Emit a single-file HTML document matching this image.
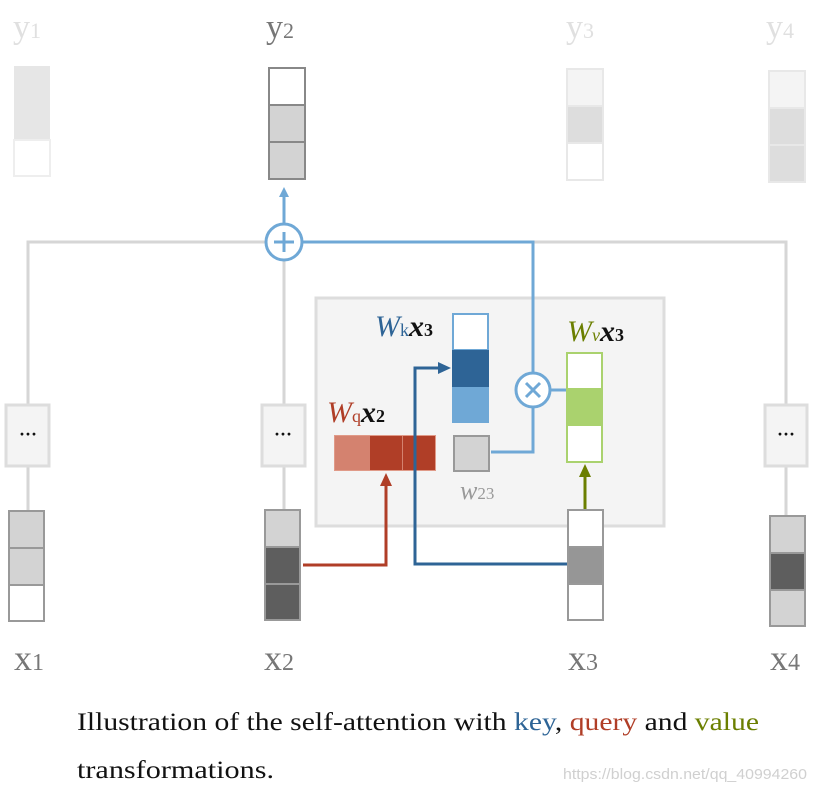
<!DOCTYPE html>
<html><head><meta charset="utf-8"><style>body{margin:0;background:#fff}svg{display:block}</style></head><body>
<svg width="816" height="791" viewBox="0 0 816 791" xmlns="http://www.w3.org/2000/svg" font-family="Liberation Serif, serif">
<defs>
<marker id="ab" markerWidth="10" markerHeight="10" refX="5" refY="5" orient="auto" markerUnits="userSpaceOnUse"><path d="M0,0 L10,5 L0,10z" fill="#6fa8d6"/></marker>
</defs>
<g font-size="34">
<text x="13" y="38" fill="#e0e0e0">y<tspan font-size="22">1</tspan></text>
<text x="266" y="38" fill="#777">y<tspan font-size="22">2</tspan></text>
<text x="566" y="38" fill="#e0e0e0">y<tspan font-size="22">3</tspan></text>
<text x="766" y="38" fill="#e0e0e0">y<tspan font-size="22">4</tspan></text>
</g>
<rect x="14" y="66" width="36" height="74" fill="#e6e6e6"/>
<rect x="14" y="140" width="36" height="36" fill="#fff" stroke="#eee" stroke-width="2"/>
<g stroke="#888" stroke-width="2"><rect x="269" y="68" width="36" height="37" fill="#fff"/><rect x="269" y="105" width="36" height="37" fill="#d3d3d3"/><rect x="269" y="142" width="36" height="37" fill="#d3d3d3"/></g>
<g stroke="#e8e8e8" stroke-width="2"><rect x="567" y="69" width="36" height="37" fill="#f4f4f4"/><rect x="567" y="106" width="36" height="37" fill="#ddd"/><rect x="567" y="143" width="36" height="37" fill="#fff"/></g>
<g stroke="#e8e8e8" stroke-width="2"><rect x="769" y="71" width="36" height="37" fill="#f4f4f4"/><rect x="769" y="108" width="36" height="37" fill="#ddd"/><rect x="769" y="145" width="36" height="37" fill="#ddd"/></g>
<g stroke="#d6d6d6" stroke-width="3" fill="none">
<path d="M28,404 V242 H266 M302,242 H786 V404"/>
<path d="M284,260 V404"/>
<path d="M28,466 V510 M284,466 V509 M786,466 V515"/>
</g>
<rect x="316" y="298" width="348" height="228" fill="#f4f4f4" stroke="#ddd" stroke-width="3"/>
<g fill="#f4f4f4" stroke="#ddd" stroke-width="3"><rect x="6" y="405" width="43" height="61"/><rect x="262" y="405" width="43" height="61"/><rect x="765" y="405" width="42" height="61"/></g>
<g font-size="18" text-anchor="middle" fill="#111" font-weight="bold"><text x="28" y="440">···</text><text x="283" y="440">···</text><text x="786" y="440">···</text></g>
<line x1="284" y1="224" x2="284" y2="192" stroke="#6fa8d6" stroke-width="3" marker-end="url(#ab)"/>
<path d="M302,242 H533 V373 M533,407 V452 H491" stroke="#6fa8d6" stroke-width="3" fill="none"/>
<line x1="550" y1="390" x2="567" y2="390" stroke="#6fa8d6" stroke-width="3"/>
<circle cx="284" cy="242" r="18" fill="#fff" stroke="#6fa8d6" stroke-width="3"/>
<path d="M284,232 V252 M274,242 H294" stroke="#6fa8d6" stroke-width="3"/>
<circle cx="533" cy="390" r="17" fill="#fff" stroke="#6fa8d6" stroke-width="3"/>
<path d="M526,383 L540,397 M540,383 L526,397" stroke="#6fa8d6" stroke-width="3"/>
<rect x="453" y="314" width="35" height="36" fill="#fff" stroke="#6fa8d6" stroke-width="2"/>
<rect x="452" y="350" width="37" height="37" fill="#2e6496"/>
<rect x="452" y="387" width="37" height="36" fill="#6fa8d6"/>
<rect x="567" y="353" width="35" height="109" fill="#fff" stroke="#aad26e" stroke-width="2"/>
<rect x="567" y="388" width="35" height="38" fill="#aad26e"/>
<rect x="334" y="435" width="102" height="36" fill="#d4826f"/>
<rect x="370" y="436" width="32" height="34" fill="#b03e27"/>
<rect x="403" y="436" width="32" height="34" fill="#b03e27"/>
<rect x="334.5" y="435.5" width="101" height="35" fill="none" stroke="#e09a88" stroke-width="1"/>
<rect x="454" y="436" width="35" height="35" fill="#d3d3d3" stroke="#999" stroke-width="2"/>
<text x="460" y="499" font-size="26" font-style="italic" fill="#999">w<tspan font-size="17" font-style="normal">23</tspan></text>
<text x="375" y="336" font-size="30" font-style="italic" fill="#2e6496">W<tspan font-size="18" font-style="normal">k</tspan><tspan fill="#111" font-weight="bold">x</tspan><tspan fill="#111" font-size="18" font-style="normal" font-weight="bold">3</tspan></text>
<text x="567" y="341" font-size="30" font-style="italic" fill="#6b7f00">W<tspan font-size="18">v</tspan><tspan fill="#111" font-weight="bold">x</tspan><tspan fill="#111" font-size="18" font-style="normal" font-weight="bold">3</tspan></text>
<text x="327" y="422" font-size="30" font-style="italic" fill="#b03e27">W<tspan font-size="18" font-style="normal">q</tspan><tspan fill="#111" font-weight="bold">x</tspan><tspan fill="#111" font-size="18" font-style="normal" font-weight="bold">2</tspan></text>
<path d="M303,565 H386 V484" stroke="#b03e27" stroke-width="3" fill="none"/>
<path d="M380,486 L386,473 L392,486z" fill="#b03e27"/>
<path d="M567,564 H415 V368 H440" stroke="#2e6496" stroke-width="3" fill="none"/>
<path d="M438,362 L451,368 L438,374z" fill="#2e6496"/>
<path d="M585,509 V475" stroke="#6b7f00" stroke-width="3"/>
<path d="M579,477 L585,464 L591,477z" fill="#6b7f00"/>
<g stroke="#999" stroke-width="2"><rect x="9" y="511" width="35" height="37" fill="#d3d3d3"/><rect x="9" y="548" width="35" height="37" fill="#d3d3d3"/><rect x="9" y="585" width="35" height="36" fill="#fff"/></g>
<g stroke="#999" stroke-width="2"><rect x="265" y="510" width="35" height="37" fill="#d3d3d3"/><rect x="265" y="547" width="35" height="37" fill="#5e5e5e"/><rect x="265" y="584" width="35" height="36" fill="#5e5e5e"/></g>
<g stroke="#999" stroke-width="2"><rect x="568" y="510" width="35" height="37" fill="#fff"/><rect x="568" y="547" width="35" height="37" fill="#969696"/><rect x="568" y="584" width="35" height="36" fill="#fff"/></g>
<g stroke="#999" stroke-width="2"><rect x="770" y="516" width="35" height="37" fill="#d3d3d3"/><rect x="770" y="553" width="35" height="37" fill="#5e5e5e"/><rect x="770" y="590" width="35" height="36" fill="#d3d3d3"/></g>
<g font-size="36" fill="#777">
<text x="14" y="670">x<tspan font-size="24">1</tspan></text>
<text x="264" y="670">x<tspan font-size="24">2</tspan></text>
<text x="568" y="670">x<tspan font-size="24">3</tspan></text>
<text x="770" y="670">x<tspan font-size="24">4</tspan></text>
</g>
<text x="77" y="730" font-size="25" fill="#111" textLength="682" lengthAdjust="spacingAndGlyphs">Illustration of the self-attention with <tspan fill="#2e6496">key</tspan>, <tspan fill="#b03e27">query</tspan> and <tspan fill="#6b7f00">value</tspan></text>
<text x="77" y="778" font-size="25" fill="#111" textLength="197" lengthAdjust="spacingAndGlyphs">transformations.</text>
<text x="563" y="779" font-size="15" fill="#d0d0d0" font-family="Liberation Sans, sans-serif" textLength="244" lengthAdjust="spacingAndGlyphs">https://blog.csdn.net/qq_40994260</text>
</svg>
</body></html>
